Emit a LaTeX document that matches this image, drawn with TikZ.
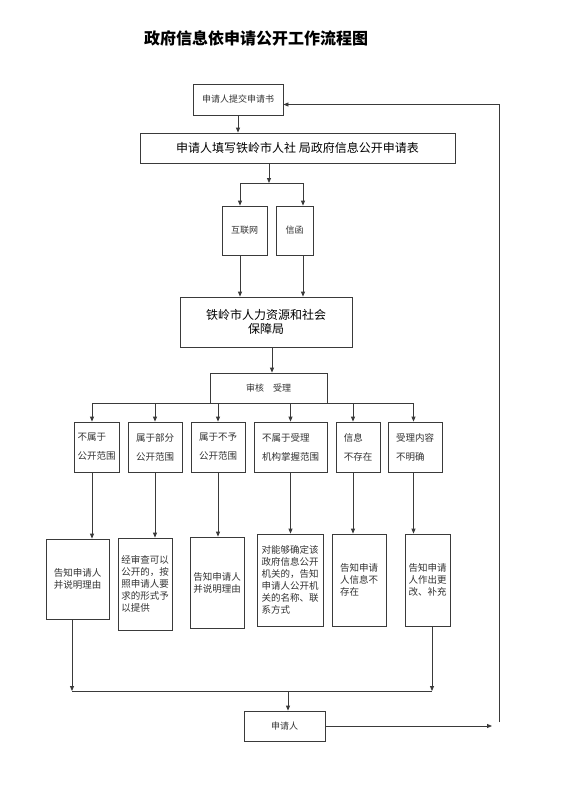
\documentclass[tikz,border=0pt]{standalone}
\usepackage{fontspec}
\newfontfamily\cjk{Noto Sans CJK SC}
\usetikzlibrary{arrows.meta,positioning}
\definecolor{FlowLine}{HTML}{3A3A3A}
\definecolor{FlowText}{HTML}{333333}
\tikzset{
  box/.style={draw=FlowLine, line width=0.8pt, inner sep=0pt, align=center,
    text=FlowText, font=\cjk\fontsize{9}{11}\selectfont},
  casebox/.style={box, minimum height=50pt, align=left,
    font=\cjk\fontsize{9.5}{19}\selectfont},
  replybox/.style={box, align=left, font=\cjk\fontsize{9.5}{12}\selectfont},
  flow/.style={draw=FlowLine, line width=0.8pt, -{Triangle[length=5pt,width=4pt]}},
  link/.style={draw=FlowLine, line width=0.8pt},
}
\begin{document}
\begin{tikzpicture}[x=1pt,y=-1pt]
  \useasboundingbox[fill=white] (0,0) rectangle (564,804);
  % Title
  \node[font=\cjk\bfseries\fontsize{16}{18}\selectfont] (title) at (256,38)
    {政府信息依申请公开工作流程图};
  % Application stage
  \node[box, minimum width=90pt, minimum height=31pt] (submit) at (238,99.5)
    {申请人提交申请书};
  \node[box, minimum width=315pt, minimum height=30pt, text=black,
    font=\cjk\fontsize{12}{14}\selectfont] (fill) at (297.5,148)
    {申请人填写铁岭市人社 局政府信息公开申请表};
  % Channels
  \node[box, minimum width=45pt, minimum height=49pt] (net) at (244.5,230.5) {互联网};
  \node[box, minimum width=37pt, minimum height=49pt] (mail) at (294.5,230.5) {信函};
  \coordinate (fork) at (269,183);
  \coordinate (netin) at ([xshift=-4.5pt]net.north);
  \coordinate (mailin) at ([xshift=8.5pt]mail.north);
  % Bureau and review
  \node[box, minimum width=172pt, minimum height=50pt, text=black,
    font=\cjk\fontsize{12}{14.5}\selectfont] (bureau) at (266,322)
    {铁岭市人力资源和社会\\保障局};
  \node[box, minimum width=117pt, minimum height=30pt] (review) at (268.5,388)
    {审核\quad 受理};
  % Six cases
  \node[casebox, minimum width=45pt] (t1) at (96.5,447) {不属于\\公开范围};
  \node[casebox, minimum width=54pt] (t2) at (155,447) {属于部分\\公开范围};
  \node[casebox, minimum width=54pt] (t3) at (218,447) {属于不予\\公开范围};
  \node[casebox, minimum width=73pt] (t4) at (290.5,447) {不属于受理\\机构掌握范围};
  \node[casebox, minimum width=44pt] (t5) at (358,447) {信息\\不存在};
  \node[casebox, minimum width=54pt] (t6) at (415,447) {受理内容\\不明确};
  % Replies
  \node[replybox, minimum width=63pt, minimum height=80pt] (b1) at (77.5,579)
    {告知申请人\\并说明理由};
  \node[replybox, minimum width=54pt, minimum height=92pt] (b2) at (145,584)
    {经审查可以\\公开的，按\\照申请人要\\求的形式予\\以提供};
  \node[replybox, minimum width=54pt, minimum height=91pt] (b3) at (217,582.5)
    {告知申请人\\并说明理由};
  \node[replybox, minimum width=66pt, minimum height=92pt] (b4) at (290,580)
    {对能够确定该\\政府信息公开\\机关的，告知\\申请人公开机\\关的名称、联\\系方式};
  \node[replybox, minimum width=54pt, minimum height=92pt] (b5) at (359,580)
    {告知申请\\人信息不\\存在};
  \node[replybox, minimum width=45pt, minimum height=92pt] (b6) at (427.5,580)
    {告知申请\\人作出更\\改、补充};
  \node[box, minimum width=81pt, minimum height=30pt] (apply) at (284.5,726) {申请人};
  % Connectors
  \draw[flow] (submit.south) -- (submit.south |- fill.north);
  \draw[flow] (fill.south -| fork) -- (fork);
  \draw[link] (netin |- fork) -- (mailin |- fork);
  \draw[flow] (netin |- fork) -- (netin);
  \draw[flow] (mailin |- fork) -- (mailin);
  \draw[flow] (netin |- net.south) -- (netin |- bureau.north);
  \draw[flow] (mailin |- mail.south) -- (mailin |- bureau.north);
  \draw[flow] ([xshift=6pt]bureau.south) -- ([xshift=6pt]bureau.south |- review.north);
  \draw[link] ([xshift=-4.5pt]t1.north |- review.south)
    -- ([xshift=-1.5pt]t6.north |- review.south);
  \foreach \t/\b/\dx in {t1/b1/-4.5, t2/b2/0, t3/b3/0, t4/b4/0, t5/b5/-5, t6/b6/-1.5} {
    \draw[flow] ([xshift=\dx pt]\t.north |- review.south) -- ([xshift=\dx pt]\t.north);
    \draw[flow] ([xshift=\dx pt]\t.south) -- ([xshift=\dx pt]\t.south |- \b.north);
  }
  % Merge into the applicant
  \coordinate (merge) at (288,691);
  \draw[flow] ([xshift=-5.5pt]b1.south) -- ([xshift=-5.5pt]b1.south |- merge);
  \draw[flow] ([xshift=4.5pt]b6.south) -- ([xshift=4.5pt]b6.south |- merge);
  \draw[link] ([xshift=-5.5pt]b1.south |- merge) -- ([xshift=4.5pt]b6.south |- merge);
  \draw[flow] (merge) -- (merge |- apply.north);
  % Return loop
  \coordinate (back) at (492,726);
  \coordinate (up) at (499,722);
  \draw[flow] (apply.east) -- (back);
  \draw[flow] (up) |- ([yshift=-5pt]submit.east);
\end{tikzpicture}
\end{document}
